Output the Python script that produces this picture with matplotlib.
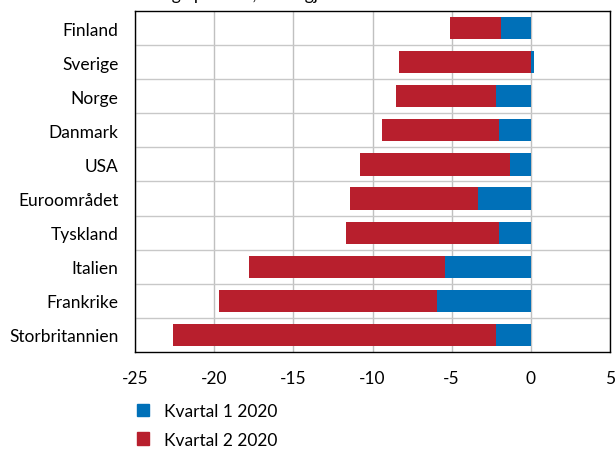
import numpy as np
import matplotlib
matplotlib.use("Agg")
import matplotlib.pyplot as plt
import matplotlib.patches as mpatches

plt.rcParams['font.family'] = ['Lato', 'DejaVu Sans']

# data, top to bottom
countries = ['Finland', 'Sverige', 'Norge', 'Danmark', 'USA', 'Euroområdet',
             'Tyskland', 'Italien', 'Frankrike', 'Storbritannien']
q1 = [-1.9, 0.2, -2.2, -2.0, -1.3, -3.35, -2.0, -5.4, -5.9, -2.2]
q2 = [-3.2, -8.3, -6.3, -7.4, -9.5, -8.05, -9.7, -12.4, -13.8, -20.4]
labels = ['Kvartal 1 2020', 'Kvartal 2 2020']
xticks = [-25, -20, -15, -10, -5, 0, 5]

blue = '#0070b8'
red = '#b81f2d'
fs = 12.5

q1 = np.array(q1)
q2 = np.array(q2)
# stack negative values onto negative, positive onto positive (like Excel)
left2 = np.where((q2 < 0) & (q1 < 0), q1, 0)
left2 = np.where((q2 >= 0) & (q1 >= 0), q1, left2)

fig = plt.figure(figsize=(6.15, 4.52), dpi=100)
ax = fig.add_axes([135/615, 1-353/452, 475/615, 341/452])
y = np.arange(len(countries))
ax.barh(y, q1, height=0.65, color=blue, zorder=3)
ax.barh(y, q2, left=left2, height=0.65, color=red, zorder=3)

ax.set_ylim(len(countries) - 0.5, -0.5)
ax.set_yticks(y)
ax.set_yticklabels(countries, fontsize=fs)
ax.set_xlim(-25, 5)
ax.set_xticks(xticks)
ax.set_xticklabels([str(t) for t in xticks], fontsize=fs)
ax.tick_params(axis='y', length=0, pad=12)
ax.tick_params(axis='x', length=0, pad=13)

# grid: vertical at ticks, horizontal between categories
for t in xticks:
    ax.axvline(t, color='#c0c0c0', lw=1, zorder=1)
for b in np.arange(0.5, len(countries) - 0.5, 1):
    ax.axhline(b, color='#c8c8c8', lw=1, zorder=1)
for s in ax.spines.values():
    s.set_color('black')
    s.set_linewidth(1)

handles = [mpatches.Patch(color=blue, label=labels[0]),
           mpatches.Patch(color=red, label=labels[1])]
fig.legend(handles=handles, loc='lower left', bbox_to_anchor=(121/615, -0.027),
           frameon=False, fontsize=fs, handlelength=0.7, handleheight=0.7,
           labelspacing=0.7, handletextpad=0.9)

# clipped subtitle at the very top (cut off in the reference too)
fig.text(122/615, 0.999, 'Endring i prosent, sesongjustert', fontsize=fs,
         va='baseline', ha='left')

fig.savefig('out.png', dpi=100)
